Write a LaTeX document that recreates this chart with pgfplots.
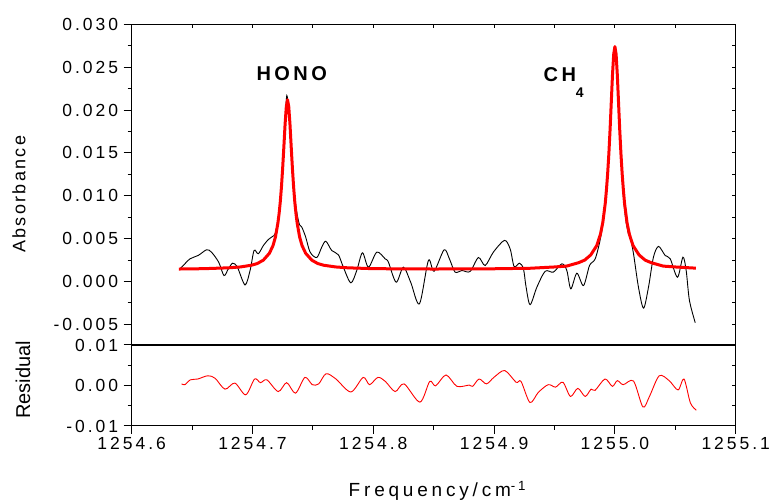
\documentclass[border=0pt]{standalone}
\usepackage{pgfplots}
\pgfplotsset{compat=1.18}
\usepackage{fontspec}
\setmainfont{Liberation Sans}[LetterSpace=17]
\newfontfamily\plainsans{Liberation Sans}

% frequencies are kept as (nu - 1254) cm^-1, TeX loses precision otherwise
\pgfplotstableread{
x y
0.640 0.00148
0.6427 0.00187
0.6483 0.00265
0.655 0.00304
0.662 0.0037
0.666 0.00343
0.672 0.00226
0.6764 0.0007
0.680 0.00148
0.6836 0.00214
0.6875 0.00167
0.6938 -0.00039
0.698 0.00129
0.7013 0.00362
0.7048 0.00324
0.709 0.0042
0.7131 0.0049
0.716 0.0052
0.719 0.0057
0.722 0.0082
0.724 0.0113
0.726 0.0162
0.7275 0.0200
0.7284 0.0217
0.7298 0.0204
0.7315 0.0168
0.733 0.0132
0.735 0.0098
0.737 0.0078
0.739 0.0066
0.7408 0.00635
0.744 0.0052
0.7477 0.00343
0.7532 0.0028
0.7573 0.0040
0.7607 0.0047
0.7656 0.00362
0.7711 0.00312
0.7752 0.00167
0.7814 -0.00015
0.7863 0.00129
0.791 0.00335
0.796 0.00167
0.8029 0.00343
0.8098 0.00265
0.8125 0.00226
0.8189 -0.00008
0.8249 0.00167
0.831 -0.0001
0.8382 -0.0026
0.8456 0.00245
0.8503 0.0012
0.8586 0.0037
0.863 0.00265
0.8677 0.0011
0.8733 0.00129
0.8801 0.00117
0.887 0.0028
0.8926 0.00187
0.8994 0.00343
0.9086 0.0048
0.9133 0.0038
0.9166 0.00175
0.921 0.00214
0.9243 0.00148
0.9265 -0.00066
0.9298 -0.0027
0.9354 -0.00066
0.9423 0.0012
0.9491 0.0011
0.9561 0.00207
0.9602 0.00129
0.9635 -0.00085
0.9685 0.00097
0.974 -0.00047
0.979 0.00187
0.9837 0.00265
0.988 0.0050
0.991 0.0078
0.994 0.0128
0.997 0.0210
0.999 0.0262
1.000 0.0273
1.001 0.0262
1.003 0.0205
1.005 0.0145
1.007 0.0100
1.009 0.0072
1.0112 0.00557
1.0126 0.0052
1.0154 0.00324
1.0195 -0.00066
1.0237 -0.0031
1.0278 -0.00066
1.0319 0.00284
1.0361 0.0041
1.0416 0.00304
1.0458 0.00265
1.0518 0.0005
1.0563 0.00284
1.059 0.00129
1.0617 -0.0022
1.0665 -0.0048
}\measured

\pgfplotstableread{
x y
0.639 0.00146
0.660 0.0015
0.680 0.0016
0.690 0.0017
0.699 0.0019
0.704 0.0021
0.709 0.0025
0.714 0.0033
0.717 0.0042
0.719 0.0052
0.721 0.0068
0.722 0.0079
0.723 0.0093
0.724 0.0111
0.725 0.0133
0.726 0.0158
0.727 0.0184
0.728 0.0204
0.729 0.0212
0.730 0.0204
0.731 0.0184
0.732 0.0158
0.733 0.0133
0.734 0.0111
0.735 0.0093
0.736 0.0079
0.737 0.0068
0.739 0.0052
0.741 0.0042
0.744 0.0033
0.749 0.0025
0.754 0.0021
0.759 0.0019
0.769 0.0017
0.779 0.0016
0.800 0.0015
0.850 0.00146
0.900 0.00149
0.930 0.00155
0.950 0.0017
0.960 0.0018
0.970 0.0022
0.975 0.0025
0.980 0.0031
0.985 0.0042
0.988 0.0055
0.990 0.0069
0.992 0.0091
0.993 0.0107
0.994 0.0126
0.995 0.0149
0.996 0.0177
0.997 0.0209
0.998 0.0241
0.999 0.0265
1.000 0.0274
1.001 0.0265
1.002 0.0241
1.003 0.0209
1.004 0.0177
1.005 0.0149
1.006 0.0126
1.007 0.0107
1.008 0.0091
1.010 0.0069
1.012 0.0055
1.015 0.0042
1.020 0.0031
1.025 0.0025
1.030 0.0022
1.040 0.0018
1.050 0.0017
1.067 0.00156
}\fit

\pgfplotstableread{
x y
0.6413 0.0004
0.6440 0.0002
0.6486 0.0014
0.6547 0.0016
0.6629 0.0024
0.669 0.0018
0.6772 -0.0009
0.6854 0.0006
0.6944 -0.0023
0.7017 0.0016
0.7066 0.0007
0.7119 0.0014
0.7213 -0.0015
0.7283 0.0007
0.7356 -0.0019
0.7434 0.0020
0.7495 0.0002
0.7548 0.0004
0.7609 0.0029
0.7691 0.0016
0.7814 -0.0016
0.7916 0.0020
0.7969 0.0002
0.8038 0.0020
0.8100 0.0010
0.8181 -0.0015
0.8255 0.0004
0.8386 -0.0041
0.8467 0.0010
0.8516 -0.0001
0.8602 0.0026
0.8692 -0.0002
0.8794 0.0001
0.8823 -0.0002
0.8876 0.0016
0.8937 0.0004
0.8998 0.0020
0.9088 0.0037
0.9182 0.0008
0.9223 0.0010
0.9297 -0.0042
0.9366 -0.0017
0.9448 0.0002
0.9509 -0.0004
0.9570 0.0008
0.9632 -0.0027
0.9693 -0.0007
0.9754 -0.0027
0.9803 -0.0009
0.9836 -0.0012
0.9918 0.0016
0.9979 -0.0002
1.0020 0.0012
1.0069 0.0002
1.0154 0.0011
1.0232 -0.0053
1.0286 -0.0027
1.0367 0.0024
1.0449 0.0012
1.0523 -0.0011
1.0572 0.0016
1.0625 -0.0043
1.0674 -0.0061
}\residual

\pgfplotsset{
  panel/.style={
    scale only axis, width=604pt,
    xmin=0.6, xmax=1.1,
    axis line style={line width=1pt},
    every tick/.style={black, line width=1pt},
    tick label style={font=\fontsize{17.5}{20}\selectfont},
    /pgf/number format/assume math mode=true,
    scaled y ticks=false,
  },
  overlay ticks/.style={
    panel, xticklabels={}, yticklabels={},
    ytick pos=right, ytick align=inside,
    xtick pos=right, xtick align=inside,
    major tick length=4pt, minor tick length=4pt,
  },
}

\begin{document}
\begin{tikzpicture}
\useasboundingbox (-131.7pt,-76pt) rectangle (641.3pt,426pt);

% upper panel: spectrum and fit
\begin{axis}[panel, name=top, at={(0,81pt)}, anchor=south west, height=320.7pt,
  ymin=-0.0074, ymax=0.030,
  xtick=\empty,
  ytick={-0.005,0,0.005,0.010,0.015,0.020,0.025,0.030},
  minor y tick num=1, ytick pos=left, ytick align=outside,
  major tick length=8pt, minor tick length=4pt,
  yticklabel style={xshift=-2pt, /pgf/number format/.cd, fixed, fixed zerofill, precision=3},
  ylabel={Absorbance},
  every axis y label/.style={at={(axis description cs:-0.1866,0.47)}, rotate=90, anchor=center,
    font=\fontsize{18}{20}\selectfont\addfontfeature{LetterSpace=13}},
]
\addplot[black, line width=0.9pt, smooth, tension=0.5] table {\measured};
\addplot[red, line width=3pt, line join=round] table {\fit};
\node[anchor=base, inner sep=0, font=\fontsize{20}{20}\selectfont\bfseries]
  at (axis cs:0.7325,0.0235) {HONO};
\node[anchor=base west, inner sep=0, font=\fontsize{20}{20}\selectfont\bfseries]
  at (axis cs:0.9409,0.0233) {CH\raisebox{-16pt}{\fontsize{14}{14}\selectfont\bfseries 4}};
\end{axis}
\begin{axis}[overlay ticks, at={(0,81pt)}, anchor=south west, height=320.7pt,
  ymin=-0.0074, ymax=0.030,
  xtick={0.6,0.65,0.7,0.75,0.8,0.85,0.9,0.95,1.0,1.05,1.1},
  ytick={-0.005,-0.0025,0,0.0025,0.005,0.0075,0.01,0.0125,0.015,0.0175,0.02,0.0225,0.025,0.0275,0.03},
]
\end{axis}

% lower panel: residual
\begin{axis}[panel, name=bot, at={(0,0)}, anchor=south west, height=81pt,
  ymin=-0.01, ymax=0.01,
  xtick={0.6,0.7,0.8,0.9,1.0,1.1},
  xticklabels={1254.6,1254.7,1254.8,1254.9,1255.0,1255.1},
  minor x tick num=1, xtick pos=left, xtick align=outside,
  ytick={-0.01,0,0.01}, minor y tick num=1, ytick pos=left, ytick align=outside,
  major tick length=8pt, minor tick length=4pt,
  yticklabel style={xshift=-2pt, /pgf/number format/.cd, fixed, fixed zerofill, precision=2},
  ylabel={\plainsans Residual},
  every axis y label/.style={at={(axis description cs:-0.18,0.568)}, rotate=90, anchor=center,
    font=\fontsize{20}{20}\selectfont},
  xlabel={Frequency/cm\textsuperscript{-1}},
  every axis x label/.style={at={(axis description cs:0.506,-0.873)}, anchor=base,
    font=\fontsize{19}{20}\selectfont\addfontfeature{LetterSpace=20}},
]
\addplot[red, line width=0.9pt, smooth, tension=0.5] table {\residual};
\end{axis}
\begin{axis}[overlay ticks, at={(0,0)}, anchor=south west, height=81pt,
  ymin=-0.01, ymax=0.01,
  xtick=\empty,
  ytick={-0.01,-0.005,0,0.005,0.01},
]
\end{axis}

\draw[line width=2.2pt] (top.south west) -- (top.south east);
\end{tikzpicture}
\end{document}
